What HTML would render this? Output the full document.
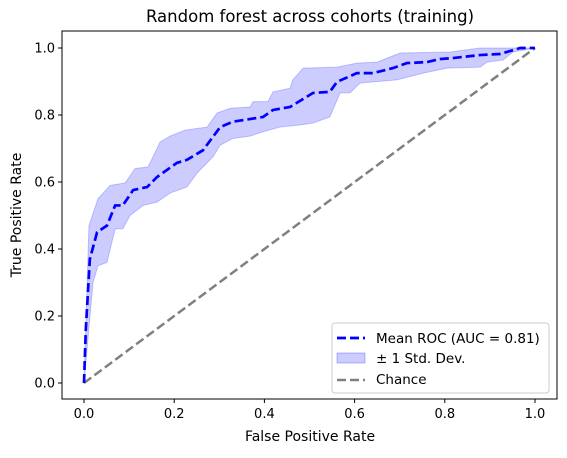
<!DOCTYPE html>
<html><head><meta charset="utf-8"><style>
body{margin:0;background:#fff}
svg text{font-family:"DejaVu Sans","Liberation Sans",sans-serif;fill:#000}
</style></head><body>
<svg id="c" width="567" height="453" xmlns="http://www.w3.org/2000/svg">
<rect width="567" height="453" fill="#fff"/>
<g id="plot"></g>
<text x="310" y="22" font-size="16.5" text-anchor="middle">Random forest across cohorts (training)</text>
<text x="310" y="441" font-size="14" text-anchor="middle">False Positive Rate</text>
<text x="21" y="215" font-size="14" text-anchor="middle" transform="rotate(-90 21 215)">True Positive Rate</text>
</svg>
<script>
const meanFpr=[0,.004,.013,.029,.051,.069,.086,.109,.14,.162,.206,.228,.264,.302,.33,.397,.419,.457,.508,.545,.561,.605,.641,.685,.716,.761,.789,.818,.878,.922,.945,.967,1.0];
const meanTpr=[0,.16,.37,.45,.47,.53,.53,.576,.585,.615,.657,.666,.695,.764,.78,.794,.815,.824,.866,.869,.899,.925,.925,.94,.955,.958,.967,.97,.979,.982,.991,1,1];
const lowFpr=[0,.02,.031,.051,.069,.086,.102,.131,.162,.191,.228,.251,.286,.302,.33,.368,.397,.435,.479,.508,.545,.568,.59,.612,.694,.752,.805,.878,.894,.929,.951,1];
const lowTpr=[0,.30,.35,.36,.46,.46,.50,.53,.54,.567,.585,.627,.675,.71,.73,.737,.75,.764,.77,.776,.794,.866,.866,.895,.905,.925,.94,.943,.958,.964,.988,1];
const upFpr=[0,.011,.031,.058,.091,.113,.142,.169,.191,.224,.273,.295,.324,.368,.375,.408,.419,.457,.463,.486,.561,.605,.65,.701,.812,.878,1];
const upTpr=[0,.47,.55,.59,.597,.64,.645,.72,.737,.755,.764,.806,.82,.824,.84,.84,.869,.88,.905,.94,.943,.955,.958,.985,.988,1,1];
const ticks=[0,0.2,0.4,0.6,0.8,1.0];
const tickLabels=["0.0","0.2","0.4","0.6","0.8","1.0"];
const NS="http://www.w3.org/2000/svg";
const g=document.getElementById('plot');
const X=v=>84+v*451, Y=v=>383-v*335;
function mk(t,a,p){const e=document.createElementNS(NS,t);for(const k in a)e.setAttribute(k,a[k]);(p||g).appendChild(e);return e;}
let pts=upFpr.map((f,i)=>X(f)+','+Y(upTpr[i]));
for(let i=lowFpr.length-1;i>=0;i--)pts.push(X(lowFpr[i])+','+Y(lowTpr[i]));
const band=mk('polygon',{points:pts.join(' '),fill:'rgba(0,0,255,0.2)',stroke:'rgba(0,0,255,0.2)','stroke-width':1});


const ch=mk('line',{x1:X(0),y1:Y(0),x2:X(1),y2:Y(1),stroke:'#808080','stroke-width':2.5,'stroke-dasharray':'9,4'});


const ml=mk('polyline',{points:meanFpr.map((f,i)=>X(f)+','+Y(meanTpr[i])).join(' '),fill:'none',stroke:'#0000ff','stroke-width':2.7,'stroke-dasharray':'9,4'});


const fr=mk('rect',{x:62,y:31,width:495,height:368,fill:'none',stroke:'#000','stroke-width':1});


ticks.forEach((t,i)=>{
 mk('line',{x1:X(t),x2:X(t),y1:399,y2:403,stroke:'#000'});
 const tx=mk('text',{x:X(t),y:418,'font-size':13,'text-anchor':'middle'});tx.textContent=tickLabels[i];
 
 
 mk('line',{x1:58,x2:62,y1:Y(t),y2:Y(t),stroke:'#000'});
 const ty=mk('text',{x:55,y:Y(t)+4.5,'font-size':13,'text-anchor':'end'});ty.textContent=tickLabels[i];
 
 
});
const lg=mk('g',{});


mk('rect',{x:332,y:323,width:217,height:70,rx:3,fill:'#fff','fill-opacity':0.8,stroke:'#ccc'},lg);
mk('line',{x1:337,x2:365,y1:338,y2:338,stroke:'#00f','stroke-width':2.7,'stroke-dasharray':'9,4'},lg);
mk('rect',{x:337,y:353,width:28,height:10,fill:'rgba(0,0,255,0.2)',stroke:'rgba(0,0,255,0.25)'},lg);
mk('line',{x1:337,x2:365,y1:380,y2:380,stroke:'#808080','stroke-width':2.5,'stroke-dasharray':'9,4'},lg);
[['Mean ROC (AUC = 0.81)',343],['± 1 Std. Dev.',363],['Chance',384]].forEach(([s,y])=>{const t=mk('text',{x:376,y:y,'font-size':13.5},lg);t.textContent=s;
 
 });
</script>
</body></html>
